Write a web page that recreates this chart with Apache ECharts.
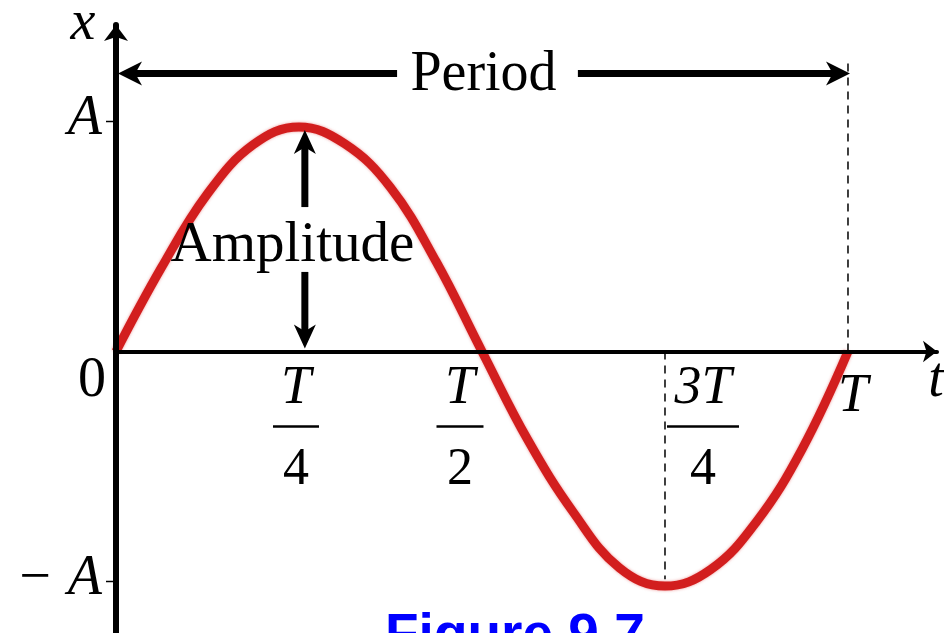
<!DOCTYPE html>
<html>
<head>
<meta charset="utf-8">
<script src="https://cdn.jsdelivr.net/npm/echarts@6/dist/echarts.min.js"></script>
<style>
  html, body { margin: 0; padding: 0; background: #fff; }
  #chart { width: 944px; height: 633px; }
</style>
</head>
<body>
<div id="chart"></div>
<script>
// curve every T/16: t in periods, x in amplitudes
const tValues = [0, 0.0625, 0.125, 0.1875, 0.25, 0.3125, 0.375, 0.4375, 0.5,
  0.5625, 0.625, 0.6875, 0.75, 0.8125, 0.875, 0.9375, 1.0];
const xValues = [0, 0.367, 0.686, 0.899, 0.976, 0.903, 0.713, 0.39, 0,
  -0.384, -0.70, -0.94, -1.02, -0.948, -0.74, -0.423, 0];

// tick labels
const fracTicks = [0.25, 0.5, 0.75];
const fracTops = ['T', 'T', '3T'];
const fracBottoms = ['4', '2', '4'];
const yTicks = [1, -1];
const yTickLabels = ['A', '\u2212 A'];

// annotation anchors (data units)
const periodLevel = 1.209;
const periodGap = [0.384, 0.631];
const ampT = 0.258;
const ampTop = 0.963;
const ampGap = [0.628, 0.346];
const dashT = [1, 0.75];
const dashEnd = [1.259, -0.99];

const serif = '"Liberation Serif", "Times New Roman", serif';
const fracDx = [-3, -22, 38];
const fracBarW = [46, 47, 72];

function head(tip, dir, len, wid) {
  const bx = tip[0] - dir[0] * len, by = tip[1] - dir[1] * len;
  const nx = -dir[1], ny = dir[0];
  const notch = [tip[0] - dir[0] * len * 0.72, tip[1] - dir[1] * len * 0.72];
  return {
    type: 'polygon',
    shape: { points: [tip, [bx + nx * wid / 2, by + ny * wid / 2], notch, [bx - nx * wid / 2, by - ny * wid / 2]] },
    style: { fill: '#000' }
  };
}
function seg(a, b, w, dash) {
  return {
    type: 'line',
    shape: { x1: a[0], y1: a[1], x2: b[0], y2: b[1] },
    style: { stroke: '#000', lineWidth: w, lineDash: dash || null }
  };
}
function txt(x, y, s, size, italic, align) {
  return {
    type: 'text', x: x, y: y,
    style: {
      text: s, fill: '#000', fontFamily: serif, fontSize: size,
      fontStyle: italic ? 'italic' : 'normal',
      align: align || 'center', verticalAlign: 'middle'
    }
  };
}

function drawNotes(params, api) {
  const kids = [];
  // dashed guides
  dashT.forEach((t, i) => {
    kids.push(seg(api.coord([t, 0]), api.coord([t, dashEnd[i]]), 1.5, [8, 6]));
  });
  // period arrow
  const pL = api.coord([0, periodLevel]);
  const pR = api.coord([1, periodLevel]);
  const g1 = api.coord([periodGap[0], periodLevel]);
  const g2 = api.coord([periodGap[1], periodLevel]);
  kids.push(seg([pL[0] + 10, pL[1]], g1, 7));
  kids.push(seg(g2, [pR[0] - 10, pR[1]], 7));
  kids.push(head([pL[0] + 2, pL[1]], [-1, 0], 24, 24));
  kids.push(head([pR[0] + 2, pR[1]], [1, 0], 24, 24));
  const pm = api.coord([(periodGap[0] + periodGap[1]) / 2, periodLevel]);
  kids.push(txt(pm[0] - 4, pm[1] + 2, 'Period', 56, false));
  // amplitude arrow
  const aT = api.coord([ampT, ampTop]);
  const aB = api.coord([ampT, 0]);
  const a1 = api.coord([ampT, ampGap[0]]);
  const a2 = api.coord([ampT, ampGap[1]]);
  kids.push(seg([aT[0], aT[1] + 12], a1, 7));
  kids.push(seg(a2, [aB[0], aB[1] - 12], 7));
  kids.push(head(aT, [0, -1], 24, 22));
  kids.push(head([aB[0], aB[1] - 3], [0, 1], 24, 22));
  const am = api.coord([ampT - 0.017, (ampGap[0] + ampGap[1]) / 2]);
  kids.push(txt(am[0], am[1] + 7, 'Amplitude', 57, false));
  // fraction tick labels
  fracTicks.forEach((t, i) => {
    const p = api.coord([t, 0]);
    const cx = p[0] + fracDx[i];
    kids.push(txt(cx, p[1] + 37, fracTops[i], 54, true));
    kids.push(seg([cx - fracBarW[i] / 2, p[1] + 75], [cx + fracBarW[i] / 2, p[1] + 75], 2.5));
    kids.push(txt(cx, p[1] + 119, fracBottoms[i], 52, false));
  });
  const pT = api.coord([1, 0]);
  kids.push(txt(pT[0] + 5, pT[1] + 45, 'T', 54, true));
  const o = api.coord([0, 0]);
  kids.push(txt(o[0] - 24, o[1] + 30, '0', 56, false));
  // y ticks and labels
  yTicks.forEach((v, i) => {
    const p = api.coord([0, v]);
    kids.push(seg([p[0] - 10, p[1]], [p[0], p[1]], 1.5));
    kids.push(txt(p[0] - 14, p[1] - 2, yTickLabels[i], 56, true, 'right'));
  });
  const yTop = api.coord([0, 1.42]);
  kids.push(txt(yTop[0] - 33, yTop[1] - 1, 'x', 56, true));
  const xEnd = api.coord([1.1216, 0]);
  kids.push(txt(xEnd[0] - 1, o[1] + 30, 't', 56, true));
  return { type: 'group', children: kids };
}

const chart = echarts.init(document.getElementById('chart'));
chart.setOption({
  backgroundColor: '#fff',
  animation: false,
  title: {
    text: 'Figure 9.7',
    left: 380, top: 604,
    textStyle: { color: '#0000ff', fontFamily: '"Liberation Sans", Arial, sans-serif', fontWeight: 'bold', fontSize: 55 }
  },
  grid: { left: 116, right: 7, top: 25, bottom: 0 },
  xAxis: {
    type: 'value', min: 0, max: 1.1216, z: 5,
    axisLine: { onZero: true, lineStyle: { color: '#000', width: 4 }, symbol: ['none', 'arrow'], symbolSize: [16, 14] },
    axisTick: { show: false }, axisLabel: { show: false }, splitLine: { show: false }
  },
  yAxis: {
    type: 'value', min: -1.2239, max: 1.4196, z: 5,
    axisLine: { lineStyle: { color: '#000', width: 6 }, symbol: ['none', 'arrow'], symbolSize: [18, 16] },
    axisTick: { show: false }, axisLabel: { show: false }, splitLine: { show: false }
  },
  series: [
    {
      type: 'line',
      data: tValues.map((t, i) => [t, xValues[i]]),
      smooth: 0.4,
      symbol: 'none',
      z: 2,
      lineStyle: { color: '#d21e1e', width: 9, shadowBlur: 3, shadowColor: 'rgba(220,40,40,0.5)' }
    },
    {
      type: 'custom',
      data: [[0, 0]],
      clip: false,
      silent: true,
      z: 6,
      renderItem: drawNotes
    }
  ]
});
</script>
</body>
</html>
